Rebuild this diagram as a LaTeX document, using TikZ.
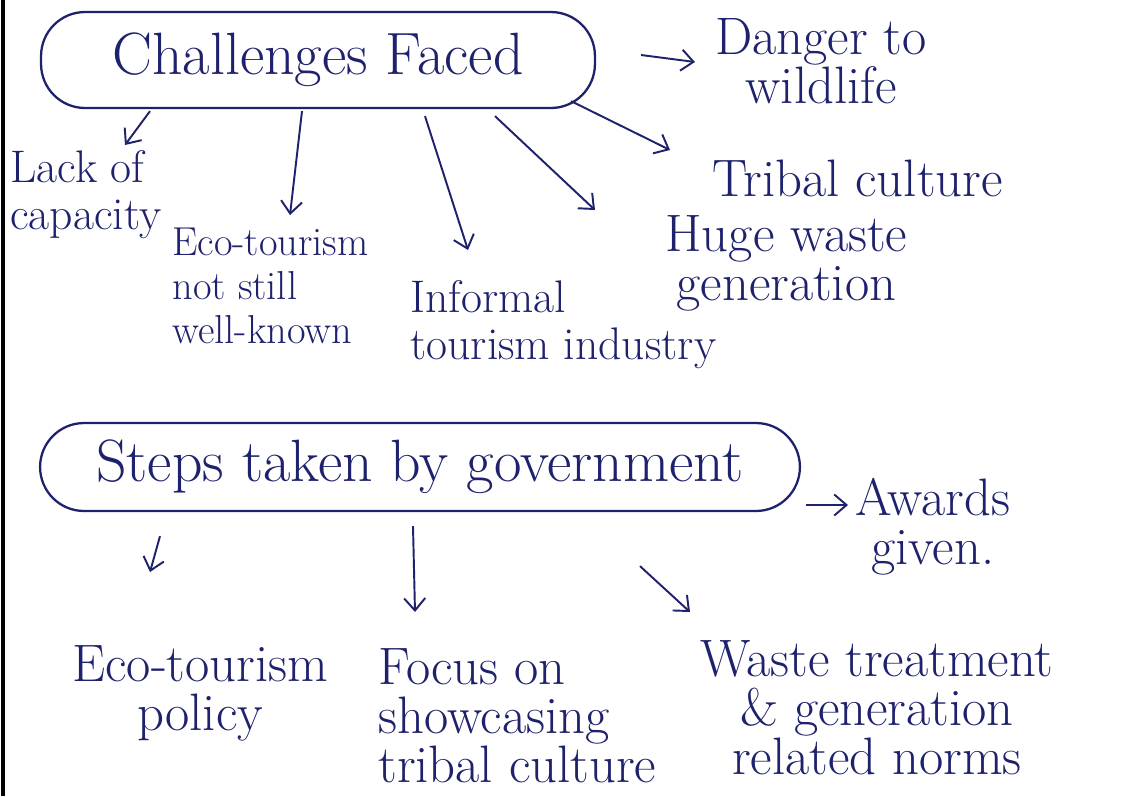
\documentclass[tikz,border=0pt]{standalone}
\usetikzlibrary{arrows.meta,calc}
\definecolor{ink}{RGB}{30,34,108}
\begin{document}
\begin{tikzpicture}[x=0.02cm,y=0.02cm,
    every node/.style={text=ink,inner sep=0pt},
    bubble/.style={draw=ink,line width=1.3pt,rounded corners=0.88cm,font=\fontsize{34}{36}\selectfont},
    big/.style={font=\fontsize{30}{28}\selectfont},
    mid/.style={font=\fontsize{26}{27}\selectfont},
    small/.style={font=\fontsize{23}{25}\selectfont},
    arr/.style={draw=ink,line width=1.1pt,-{Straight Barb[length=7pt,width=12pt]}}]
  \fill[white] (0,0) rectangle (1127,-796);
  \useasboundingbox (0,0) rectangle (1127,-796);
  \draw[line width=2pt] (3,0) -- (3,-796);

  \node[bubble,minimum width=11.08cm,minimum height=1.92cm] (challenges) at (318,-60) {Challenges Faced};
  \node[big,anchor=north west,align=center] (danger) at (715,-18) {Danger to\\wildlife};
  \node[big,anchor=north west] (tribal) at (712,-160) {Tribal culture};
  \node[big,anchor=north west,align=center] (waste) at (665,-215) {Huge waste\\generation};
  \node[mid,anchor=north west,align=left] (informal) at (410,-280) {Informal\\tourism industry};
  \node[small,anchor=north west,align=left] (eco) at (172,-228) {Eco-tourism\\not still\\well-known};
  \node[mid,anchor=north west,align=left] (lack) at (10,-150) {Lack of\\capacity};

  \draw[arr] ($(challenges.east)+(45,5)$) -- ($(danger.north west)+(-20,-44)$);
  \draw[arr] ($(challenges.south east)+(-25,8)$) -- ($(tribal.north west)+(-42,10)$);
  \draw[arr] ($(challenges.south)+(177,-7)$) -- ($(waste.north west)+(-70,5)$);
  \draw[arr] ($(challenges.south)+(107,-7)$) -- ($(informal.north west)+(58,30)$);
  \draw[arr] ($(challenges.south)+(-16,-2)$) -- ($(eco.north west)+(118,13)$);
  \draw[arr] ($(challenges.south)+(-168,-2)$) -- ($(lack.north west)+(115,5)$);

  \node[bubble,minimum width=15.2cm,minimum height=1.76cm] (steps) at (420,-467) {Steps taken by government};
  \node[big,anchor=north west,align=center] (awards) at (855,-478) {Awards\\given.};
  \node[big,anchor=north west,align=center] (policy) at (72,-645) {Eco-tourism\\policy};
  \node[big,anchor=north west,align=left] (focus) at (378,-648) {Focus on\\showcasing\\tribal culture};
  \node[big,anchor=north west,align=center] (norms) at (700,-640) {Waste treatment\\\& generation\\related norms};

  \draw[arr] ($(steps.east)+(5,-38)$) -- ($(awards.north west)+(-7,-27)$);
  \draw[arr] ($(steps.south)+(-260,-24)$) -- ($(policy.north west)+(78,73)$);
  \draw[arr] ($(steps.south)+(-7,-14)$) -- ($(focus.north west)+(37,36)$);
  \draw[arr] ($(steps.south)+(220,-54)$) -- ($(norms.north west)+(-10,28)$);
\end{tikzpicture}
\end{document}
